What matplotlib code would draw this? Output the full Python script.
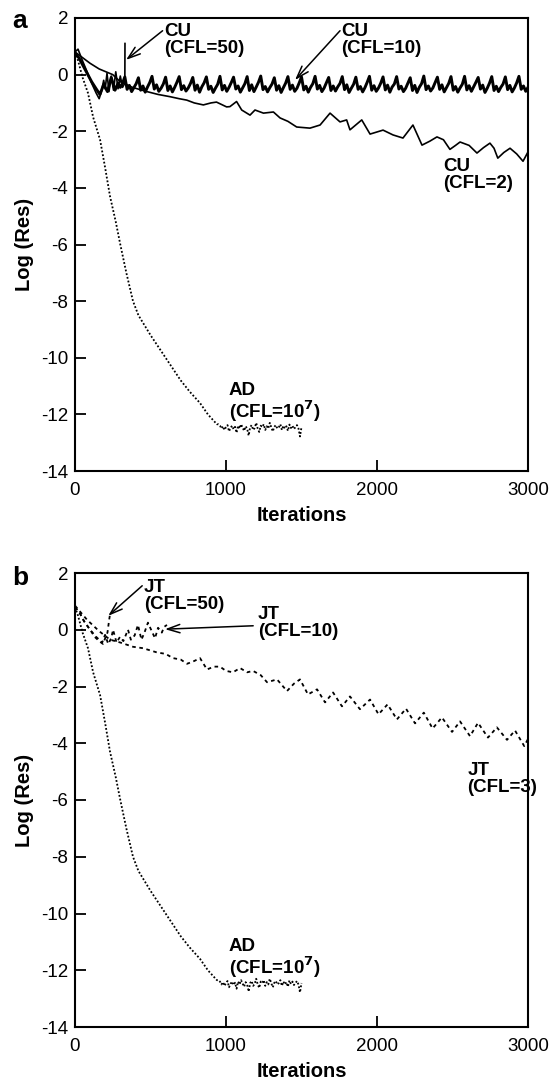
import numpy as np
import matplotlib
matplotlib.use("Agg")
import matplotlib.pyplot as plt

plt.rcParams['font.family'] = ['Liberation Sans', 'DejaVu Sans']

# ---------------- data ----------------
# AD (CFL=1e7) - identical in both panels
ad_it_head = [0, 20, 50, 86, 120, 166, 200, 232, 270, 300, 340, 384, 420, 460, 500,
              550, 600, 650, 700, 760, 828, 880, 914, 940]
ad_val_head = [0.8, 0.5, -0.1, -0.65, -1.5, -2.3, -3.3, -4.3, -5.2, -6.0, -7.0, -8.0, -8.5,
               -8.85, -9.2, -9.6, -10.0, -10.4, -10.8, -11.2, -11.6, -12.0, -12.2, -12.35]
ad_it_tail_start, ad_it_tail_step = 950, 10
ad_val_tail = [-12.35, -12.4, -12.5, -12.42, -12.55, -12.45, -12.38, -12.6, -12.48, -12.4,
               -12.52, -12.44, -12.65, -12.4, -12.5, -12.35, -12.47, -12.58, -12.42, -12.5,
               -12.75, -12.45, -12.38, -12.55, -12.48, -12.3, -12.5, -12.62, -12.4, -12.45,
               -12.35, -12.55, -12.42, -12.5, -12.3, -12.46, -12.6, -12.44, -12.38, -12.5,
               -12.45, -12.35, -12.55, -12.4, -12.5, -12.42, -12.58, -12.36, -12.48, -12.4,
               -12.52, -12.45, -12.38, -12.5, -12.78, -12.45]

# CU (CFL=50)
cu50_it = [0, 20, 45, 80, 110, 140, 160, 175, 190, 200, 212, 225, 240, 255, 270, 285, 300, 315, 330, 331]
cu50_val = [0.8, 0.9, 0.55, 0.1, -0.3, -0.65, -0.85, -0.6, -0.2, -0.5, 0.05, -0.6, -0.05, -0.55,
            0.1, -0.5, -0.05, -0.45, -0.3, 1.1]

# CU (CFL=10)
cu10_it_head = [0, 25, 50, 80, 110, 140, 165, 190, 215, 240, 265, 285]
cu10_val_head = [0.75, 0.6, 0.35, 0.05, -0.25, -0.5, -0.7, -0.35, -0.6, -0.1, -0.55, -0.3]
cu10_it_tail_start, cu10_it_tail_step = 300, 15
cu10_val_tail = [
    -0.45, -0.30, -0.08, -0.52, -0.38, -0.60, -0.46, -0.32, -0.11, -0.55, -0.40, -0.62,
    -0.44, -0.28, -0.06, -0.51, -0.36, -0.59, -0.48, -0.33, -0.09, -0.56, -0.40, -0.61,
    -0.45, -0.27, -0.07, -0.53, -0.39, -0.58, -0.47, -0.31, -0.10, -0.55, -0.37, -0.62,
    -0.43, -0.29, -0.08, -0.52, -0.41, -0.63, -0.48, -0.34, -0.06, -0.54, -0.38, -0.59,
    -0.45, -0.28, -0.09, -0.51, -0.40, -0.62, -0.47, -0.32, -0.07, -0.56, -0.36, -0.60,
    -0.44, -0.27, -0.05, -0.53, -0.42, -0.61, -0.46, -0.33, -0.11, -0.55, -0.39, -0.63,
    -0.46, -0.30, -0.07, -0.52, -0.37, -0.59, -0.48, -0.29, -0.08, -0.54, -0.41, -0.62,
    -0.45, -0.32, -0.06, -0.51, -0.38, -0.60, -0.47, -0.28, -0.10, -0.56, -0.40, -0.58,
    -0.43, -0.31, -0.07, -0.53, -0.36, -0.63, -0.48, -0.34, -0.09, -0.52, -0.42, -0.61,
    -0.46, -0.27, -0.06, -0.55, -0.39, -0.59, -0.47, -0.30, -0.08, -0.54, -0.37, -0.62,
    -0.44, -0.33, -0.07, -0.51, -0.41, -0.60, -0.48, -0.29, -0.11, -0.56, -0.38, -0.63,
    -0.45, -0.32, -0.05, -0.53, -0.40, -0.58, -0.47, -0.28, -0.09, -0.52, -0.36, -0.61,
    -0.46, -0.31, -0.07, -0.55, -0.42, -0.62, -0.47, -0.34, -0.06, -0.54, -0.39, -0.59,
    -0.43, -0.27, -0.10, -0.51, -0.37, -0.63, -0.48, -0.30, -0.07, -0.56, -0.41, -0.60,
    -0.45, -0.33, -0.08, -0.53, -0.38, -0.61, -0.47, -0.29, -0.06, -0.52, -0.40, -0.59,
    -0.45]

# CU (CFL=2)
cu2_it = [0, 50, 100, 160, 250, 300, 380, 477, 550, 630, 690, 740, 790, 850, 900, 937, 1004,
          1026, 1070, 1104, 1159, 1192, 1248, 1314, 1358, 1410, 1468, 1556, 1623, 1689, 1755,
          1799, 1821, 1899, 1954, 2040, 2106, 2172, 2238, 2298, 2350, 2397, 2440, 2483, 2520,
          2550, 2610, 2662, 2705, 2748, 2775, 2800, 2840, 2881, 2925, 2967, 3000]
cu2_val = [0.8, 0.6, 0.4, 0.2, 0.0, -0.25, -0.45, -0.6, -0.7, -0.78, -0.85, -0.9, -1.0, -1.07,
           -1.0, -0.97, -1.14, -1.13, -0.95, -1.25, -1.43, -1.25, -1.36, -1.32, -1.53, -1.65,
           -1.85, -1.89, -1.78, -1.36, -1.67, -1.6, -1.95, -1.6, -2.1, -1.96, -2.13, -2.24,
           -1.78, -2.49, -2.35, -2.2, -2.3, -2.64, -2.5, -2.38, -2.5, -2.77, -2.58, -2.42,
           -2.6, -2.95, -2.75, -2.6, -2.8, -3.06, -2.73]

# JT (CFL=50)
jt50_it = [0, 30, 60, 100, 130, 160, 185, 200, 215, 225, 232]
jt50_val = [0.8, 0.6, 0.3, 0.0, -0.25, -0.4, -0.5, -0.3, -0.1, 0.3, 0.55]

# JT (CFL=10)
jt10_it = [0, 30, 60, 100, 140, 180, 199, 220, 240, 252, 275, 298, 320, 351, 370, 395,
           417, 440, 460, 483, 510, 530, 550, 575, 590, 609]
jt10_val = [0.8, 0.6, 0.3, 0.0, -0.25, -0.45, -0.18, -0.5, -0.3, 0.0, -0.45, -0.25, -0.4,
            0.0, -0.35, -0.2, 0.17, -0.35, -0.1, 0.25, -0.07, -0.3, 0.07, -0.1, 0.1, 0.17]

# JT (CFL=3)
jt3_it = [0, 40, 80, 120, 160, 232, 300, 384, 450, 543, 600, 649, 700, 742, 790, 828, 874,
          920, 960, 1000, 1046, 1093, 1140, 1179, 1230, 1272, 1338, 1404, 1450, 1490, 1543,
          1603, 1656, 1709, 1768, 1821, 1887, 1954, 2010, 2070, 2132, 2192, 2252, 2310, 2368,
          2430, 2497, 2550, 2616, 2669, 2735, 2794, 2861, 2914, 2975, 3000]
jt3_val = [0.85, 0.6, 0.35, 0.15, -0.05, -0.35, -0.45, -0.6, -0.65, -0.8, -0.85, -1.0, -1.05,
           -1.2, -1.1, -1.0, -1.4, -1.3, -1.3, -1.45, -1.5, -1.35, -1.5, -1.45, -1.6, -1.85,
           -1.75, -2.16, -1.9, -1.75, -2.28, -2.1, -2.56, -2.21, -2.7, -2.35, -2.8, -2.46,
           -2.98, -2.63, -3.16, -2.78, -3.3, -2.92, -3.48, -3.09, -3.6, -3.23, -3.75, -3.28,
           -3.8, -3.44, -3.88, -3.55, -4.1, -3.85]

x_ticks = [0, 1000, 2000, 3000]
y_ticks = [2, 0, -2, -4, -6, -8, -10, -12, -14]

# ---------------- build ----------------
ad_it = ad_it_head + [ad_it_tail_start + ad_it_tail_step * i for i in range(len(ad_val_tail))]
ad_val = ad_val_head + ad_val_tail
cu10_it = cu10_it_head + [cu10_it_tail_start + cu10_it_tail_step * i for i in range(len(cu10_val_tail))]
cu10_val = cu10_val_head + cu10_val_tail

fig = plt.figure(figsize=(5.52, 10.83), dpi=100)
W, H = 552, 1083


def make_ax(top, bottom):
    ax = fig.add_axes([75 / W, 1 - bottom / H, 453 / W, (bottom - top) / H])
    ax.set_xlim(0, 3000)
    ax.set_ylim(-14, 2)
    ax.set_xticks(x_ticks)
    ax.set_yticks(y_ticks)
    ax.set_yticklabels([str(v) for v in y_ticks])
    ax.tick_params(direction='in', length=8, width=1.3, labelsize=13.5,
                   top=False, right=False)
    ax.tick_params(axis='x', pad=8)
    ax.tick_params(axis='y', pad=5)
    for s in ax.spines.values():
        s.set_linewidth(1.5)
    ax.set_xlabel('Iterations', fontsize=14.5, fontweight='bold', labelpad=5)
    ax.set_ylabel('Log (Res)', fontsize=14.5, fontweight='bold', labelpad=5)
    return ax


ad_style = dict(color='black', lw=1.3, linestyle=(0, (1, 1.1)))
arrow_kw = dict(arrowstyle='->,head_length=0.9,head_width=0.3', lw=1.1, color='black',
                shrinkA=0, shrinkB=0)
txt_kw = dict(fontsize=13.5, fontweight='bold', ha='left', va='top', linespacing=1.0)

# panel a
axa = make_ax(18, 471)
axa.plot(ad_it, ad_val, **ad_style)
axa.plot(cu2_it, cu2_val, color='black', lw=1.2)
axa.plot(cu10_it, cu10_val, color='black', lw=2.1)
axa.plot(cu50_it, cu50_val, color='black', lw=1.2)
axa.annotate('', xy=(338, 0.52), xytext=(580, 1.55), arrowprops=arrow_kw)
axa.text(590, 1.82, 'CU\n(CFL=50)', **txt_kw)
axa.annotate('', xy=(1457, -0.19), xytext=(1755, 1.55), arrowprops=arrow_kw)
axa.text(1765, 1.82, 'CU\n(CFL=10)', **txt_kw)
axa.text(2440, -2.95, 'CU\n(CFL=2)', **txt_kw)
axa.text(1020, -10.85, 'AD\n(CFL=10$^\\mathbf{7}$)', **txt_kw)
fig.text(12 / W, 1 - 28 / H, 'a', fontsize=19, fontweight='bold', ha='left', va='baseline')

# panel b
axb = make_ax(573, 1027)
axb.plot(ad_it, ad_val, **ad_style)
axb.plot(jt3_it, jt3_val, color='black', lw=1.3, linestyle=(0, (2, 2)))
axb.plot(jt10_it, jt10_val, color='black', lw=1.3, linestyle=(0, (2, 2)))
axb.plot(jt50_it, jt50_val, color='black', lw=1.3, linestyle=(0, (2, 2)))
axb.annotate('', xy=(220, 0.49), xytext=(445, 1.55), arrowprops=arrow_kw)
axb.text(455, 1.78, 'JT\n(CFL=50)', **txt_kw)
axb.annotate('', xy=(596, 0.02), xytext=(1180, 0.14), arrowprops=arrow_kw)
axb.text(1212, 0.85, 'JT\n(CFL=10)', **txt_kw)
axb.text(2600, -4.65, 'JT\n(CFL=3)', **txt_kw)
axb.text(1020, -10.85, 'AD\n(CFL=10$^\\mathbf{7}$)', **txt_kw)
fig.text(12 / W, 1 - 585 / H, 'b', fontsize=19, fontweight='bold', ha='left', va='baseline')

fig.savefig('out.png', dpi=100)
